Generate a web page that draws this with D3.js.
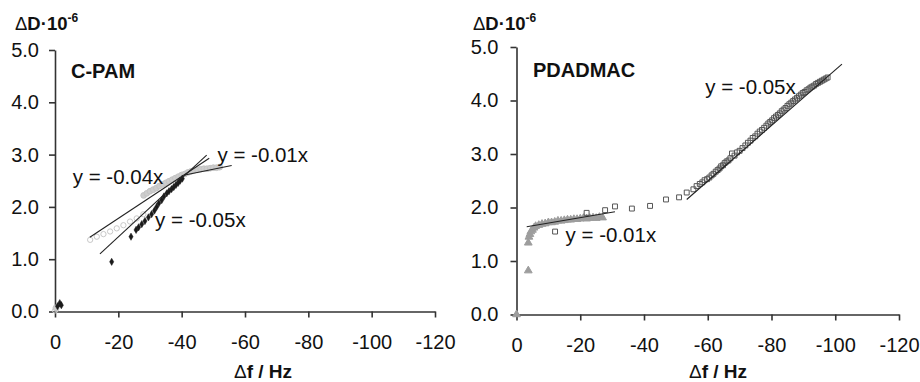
<!DOCTYPE html>
<html>
<head>
<meta charset="utf-8">
<script src="https://cdn.jsdelivr.net/npm/d3@7/dist/d3.min.js"></script>
<style>
  html, body { margin: 0; padding: 0; background: #fff; }
  svg { display: block; }
  text { font-family: "Liberation Sans", Arial, Helvetica, sans-serif; fill: #111; }
</style>
</head>
<body>
<svg id="chart" width="920" height="382"></svg>
<script>
// Dissipation change vs. frequency shift, two polyelectrolytes
const xTicks = [0, -20, -40, -60, -80, -100, -120];
const yTicks = [0, 1, 2, 3, 4, 5];

// ---- C-PAM panel ----
const cpamDiamonds = [
  [-0.8, 0.10], [-1.5, 0.16], [-2.0, 0.12],
  [-17.9, 0.95], [-24.0, 1.43], [-25.6, 1.56], [-26.4, 1.61], [-27.4, 1.67],
  [-28.4, 1.73], [-29.5, 1.80], [-30.5, 1.86], [-31.4, 1.93], [-32.1, 2.00],
  [-32.8, 2.07], [-33.7, 2.13], [-34.4, 2.20], [-35.3, 2.26], [-36.0, 2.30],
  [-36.8, 2.34], [-37.5, 2.38], [-38.2, 2.42], [-38.9, 2.46], [-39.5, 2.50],
  [-40.2, 2.54]
];
const cpamOpen = [
  [0.0, 0.02], [-0.4, 0.05],
  [-11.1, 1.37], [-13.2, 1.43], [-15.3, 1.48], [-17.4, 1.53], [-19.5, 1.59],
  [-21.6, 1.65], [-23.7, 1.72], [-25.8, 1.78], [-27.9, 1.86]
];
const cpamGrey = [
  [-0.3, 0.07],
  [-28.0, 2.22], [-29.0, 2.26], [-30.0, 2.30], [-31.0, 2.33], [-32.0, 2.36],
  [-33.0, 2.40], [-34.0, 2.43], [-35.0, 2.46], [-36.0, 2.49], [-37.0, 2.52],
  [-38.0, 2.55], [-39.0, 2.58], [-40.0, 2.61], [-41.0, 2.63], [-42.0, 2.66],
  [-43.0, 2.68], [-44.0, 2.70], [-45.0, 2.71], [-46.0, 2.72], [-47.0, 2.73],
  [-48.0, 2.73], [-49.0, 2.74], [-50.0, 2.75], [-51.0, 2.75], [-52.0, 2.76]
];
// trend lines: [from Δf, to Δf, ΔD at start, ΔD at end]
const cpamFits = [
  [-14.2, -47.9, 1.10, 2.99],
  [-11.0, -48.7, 1.42, 2.93],
  [-41.0, -55.8, 2.61, 2.79]
];
const cpamFitLabels = [
  ["y = -0.04x", -5.6, 2.44],
  ["y = -0.01x", -51.3, 2.86],
  ["y = -0.05x", -31.6, 1.62]
];

// ---- PDADMAC panel ----
const pdadTriangles = [
  [0.0, 0.0], [-3.7, 0.82], [-3.7, 1.34], [-3.9, 1.45], [-4.2, 1.50],
  [-4.5, 1.55], [-5.0, 1.58], [-5.5, 1.62], [-6.0, 1.65], [-7.0, 1.67],
  [-8.0, 1.69], [-9.0, 1.70], [-10.0, 1.72], [-11.0, 1.72], [-12.0, 1.73],
  [-13.0, 1.75], [-14.0, 1.75], [-15.0, 1.76], [-16.0, 1.77], [-17.0, 1.77],
  [-18.0, 1.78], [-19.0, 1.78], [-20.0, 1.79], [-21.0, 1.80], [-22.0, 1.79],
  [-23.0, 1.80], [-24.0, 1.81], [-25.0, 1.80], [-26.0, 1.82], [-27.0, 1.81]
];
const pdadSquares = [
  [-12.1, 1.55], [-22.0, 1.90], [-27.8, 1.95], [-30.9, 2.02], [-36.2, 1.98],
  [-41.9, 2.03], [-46.9, 2.15], [-51.0, 2.19], [-53.4, 2.28], [-55.5, 2.34],
  [-56.5, 2.40], [-57.5, 2.44], [-58.3, 2.47], [-59.0, 2.51], [-59.8, 2.53],
  [-60.5, 2.56], [-61.2, 2.60], [-61.8, 2.63], [-62.5, 2.67], [-63.1, 2.70],
  [-63.7, 2.73], [-64.2, 2.77], [-64.8, 2.79], [-65.3, 2.83], [-65.9, 2.86],
  [-66.5, 2.88], [-67.1, 2.92], [-67.6, 3.01], [-68.4, 2.97], [-69.2, 3.03],
  [-70.0, 3.06], [-70.9, 3.11], [-71.8, 3.16], [-72.6, 3.21], [-73.4, 3.25],
  [-74.1, 3.30], [-74.9, 3.33], [-75.6, 3.38], [-76.3, 3.42], [-77.0, 3.45],
  [-77.7, 3.49], [-78.4, 3.53], [-79.0, 3.57], [-79.6, 3.60], [-80.2, 3.63],
  [-80.8, 3.67], [-81.4, 3.70], [-82.0, 3.73], [-82.6, 3.76], [-83.2, 3.80],
  [-83.8, 3.83], [-84.4, 3.86], [-85.0, 3.90], [-85.6, 3.93], [-86.2, 3.96],
  [-86.8, 3.99], [-87.4, 4.02], [-88.0, 4.05], [-88.6, 4.08], [-89.2, 4.11],
  [-89.8, 4.14], [-90.4, 4.16], [-91.0, 4.19], [-91.6, 4.21], [-92.2, 4.24],
  [-92.8, 4.26], [-93.4, 4.28], [-94.0, 4.31], [-94.6, 4.33], [-95.2, 4.35],
  [-95.8, 4.37], [-96.4, 4.39], [-97.0, 4.41], [-97.6, 4.43]
];
const pdadFits = [
  [-3.2, -30.9, 1.64, 1.92],
  [-53.4, -102.1, 2.15, 4.68]
];
const pdadFitLabels = [
  ["y = -0.01x", -15.4, 1.35],
  ["y = -0.05x", -59.2, 4.13]
];

const svg = d3.select("#chart");

function drawPanel(cfg) {
  const x = d3.scaleLinear().domain([0, -120]).range(cfg.xRange);
  const y = d3.scaleLinear().domain([0, 5]).range(cfg.yRange);
  const g = svg.append("g");

  // axes (plain hyphen for negative tick values)
  const yAxis = d3.axisLeft(y).tickValues(yTicks).tickFormat(d => d.toFixed(1))
    .tickSize(6).tickSizeOuter(0).tickPadding(cfg.yPad);
  const xAxis = d3.axisBottom(x).tickValues(xTicks).tickFormat(d => String(d))
    .tickSize(6).tickSizeOuter(0).tickPadding(17);

  const ga = g.append("g").attr("transform", `translate(${cfg.xRange[0]},0)`).call(yAxis);
  const gb = g.append("g").attr("transform", `translate(0,${cfg.yRange[0]})`).call(xAxis);
  [ga, gb].forEach(a => {
    a.select(".domain").attr("stroke", "#333").attr("stroke-width", 1.6);
    a.selectAll(".tick line").attr("stroke", "#333").attr("stroke-width", 1.6);
    a.selectAll(".tick text").attr("font-size", 20).attr("fill", "#111")
      .style("font-family", '"Liberation Sans", Arial, sans-serif');
  });

  // series markers
  cfg.series.forEach(s => {
    g.append("g").selectAll("path").data(s.data).join("path")
      .attr("transform", d => `translate(${x(d[0])},${y(d[1])})`)
      .attr("d", d3.symbol(s.symbol, s.size))
      .attr("fill", s.fill)
      .attr("stroke", s.stroke)
      .attr("stroke-width", s.strokeWidth || 1);
  });

  // trend lines
  g.append("g").selectAll("line").data(cfg.fits).join("line")
    .attr("x1", d => x(d[0])).attr("x2", d => x(d[1]))
    .attr("y1", d => y(d[2])).attr("y2", d => y(d[3]))
    .attr("stroke", "#222").attr("stroke-width", 1.1);

  // trend equations
  g.append("g").selectAll("text").data(cfg.fitLabels).join("text")
    .attr("x", d => x(d[1])).attr("y", d => y(d[2]))
    .attr("font-size", 20.5).text(d => d[0]);

  // polymer name
  g.append("text").attr("x", cfg.nameX).attr("y", cfg.nameY)
    .attr("font-size", 20).attr("font-weight", "bold").text(cfg.name);

  // y-axis title
  const yt = g.append("text").attr("x", cfg.yTitleX).attr("y", 30)
    .attr("font-size", 18.5).attr("font-weight", "bold");
  yt.append("tspan").attr("font-weight", "normal").text("\u0394");
  yt.append("tspan").text("D\u00b710");
  yt.append("tspan").attr("font-size", 12).attr("dy", -8).text("-6");

  // x-axis title
  const xt = g.append("text").attr("x", cfg.xTitleX).attr("y", 378)
    .attr("text-anchor", "middle").attr("font-size", 19).attr("font-weight", "bold");
  xt.append("tspan").attr("font-weight", "normal").text("\u0394");
  xt.append("tspan").text("f / Hz");
}

drawPanel({
  xRange: [55, 435], yRange: [311.5, 50], yPad: 10,
  name: "C-PAM", nameX: 71, nameY: 78,
  yTitleX: 15, xTitleX: 263,
  series: [
    { data: cpamOpen, symbol: d3.symbolCircle, size: 22, fill: "none", stroke: "#c8c8c8" },
    { data: cpamGrey, symbol: d3.symbolCircle, size: 26, fill: "#cdcdcd", stroke: "#c4c4c4" },
    { data: cpamDiamonds, symbol: d3.symbolDiamond, size: 15, fill: "#1a1a1a", stroke: "#1a1a1a", strokeWidth: 0.5 }
  ],
  fits: cpamFits, fitLabels: cpamFitLabels
});

drawPanel({
  xRange: [516.5, 899], yRange: [314.5, 47], yPad: 12,
  name: "PDADMAC", nameX: 533, nameY: 77,
  yTitleX: 473, xTitleX: 718,
  series: [
    { data: pdadTriangles, symbol: d3.symbolTriangle, size: 26, fill: "#9d9d9d", stroke: "#9d9d9d" },
    { data: pdadSquares, symbol: d3.symbolSquare, size: 24, fill: "none", stroke: "#555", strokeWidth: 1 }
  ],
  fits: pdadFits, fitLabels: pdadFitLabels
});
</script>
</body>
</html>
